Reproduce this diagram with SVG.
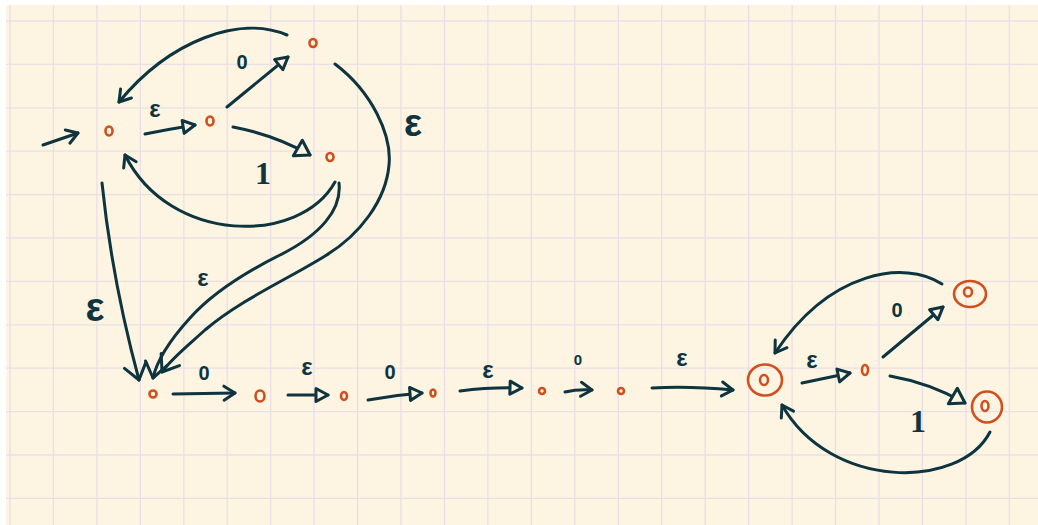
<svg xmlns="http://www.w3.org/2000/svg" width="1038" height="525" viewBox="0 0 1038 525">
<style>
.grid line{stroke:#EADFE7;stroke-width:1.3}
.edge{fill:none;stroke:#0E3440;stroke-width:3;stroke-linecap:round;stroke-linejoin:round}
.st{fill:none;stroke:#D24E1D;stroke-width:2.6}
.lbl{font-family:"Liberation Sans",Arial,sans-serif;font-weight:bold;fill:#0E3440;text-anchor:middle}
.one{font-family:"Liberation Serif","Times New Roman",serif;font-weight:bold;fill:#0E3440;text-anchor:middle}
</style>
<defs>
<marker id="v" markerUnits="userSpaceOnUse" markerWidth="30" markerHeight="30" viewBox="-15 -15 30 30" refX="0" refY="0" orient="auto">
<path d="M-11,-7 L0,0 L-11,7" fill="none" stroke="#0E3440" stroke-width="3" stroke-linecap="round" stroke-linejoin="round"/>
</marker>
<marker id="vb" markerUnits="userSpaceOnUse" markerWidth="40" markerHeight="40" viewBox="-20 -20 40 40" refX="0" refY="0" orient="auto">
<path d="M-15,-11 L0,0 L-15,11" fill="none" stroke="#0E3440" stroke-width="3" stroke-linecap="round" stroke-linejoin="round"/>
</marker>
<marker id="t" markerUnits="userSpaceOnUse" markerWidth="30" markerHeight="30" viewBox="-15 -15 30 30" refX="0" refY="0" orient="auto">
<path d="M-12,-6.5 L0,0 L-12,6.5 Z" fill="#FDF4E2" stroke="#0E3440" stroke-width="3" stroke-linejoin="round"/>
</marker>
<marker id="tb" markerUnits="userSpaceOnUse" markerWidth="36" markerHeight="36" viewBox="-18 -18 36 36" refX="0" refY="0" orient="auto">
<path d="M-14,-9 L0,0 L-14,9 Z" fill="#FDF4E2" stroke="#0E3440" stroke-width="3" stroke-linejoin="round"/>
</marker>
</defs>
<rect x="0" y="0" width="1038" height="525" fill="#FFFFFF"/>
<rect x="6" y="5" width="1032" height="520" fill="#FDF4E2"/>
<g class="grid">
<line x1="10" y1="5" x2="10" y2="525"/><line x1="53.4" y1="5" x2="53.4" y2="525"/><line x1="96.9" y1="5" x2="96.9" y2="525"/><line x1="140.3" y1="5" x2="140.3" y2="525"/><line x1="183.8" y1="5" x2="183.8" y2="525"/><line x1="227.2" y1="5" x2="227.2" y2="525"/><line x1="270.7" y1="5" x2="270.7" y2="525"/><line x1="314.1" y1="5" x2="314.1" y2="525"/><line x1="357.6" y1="5" x2="357.6" y2="525"/><line x1="401" y1="5" x2="401" y2="525"/><line x1="444.5" y1="5" x2="444.5" y2="525"/><line x1="487.9" y1="5" x2="487.9" y2="525"/><line x1="531.4" y1="5" x2="531.4" y2="525"/><line x1="574.8" y1="5" x2="574.8" y2="525"/><line x1="618.3" y1="5" x2="618.3" y2="525"/><line x1="661.7" y1="5" x2="661.7" y2="525"/><line x1="705.2" y1="5" x2="705.2" y2="525"/><line x1="748.6" y1="5" x2="748.6" y2="525"/><line x1="792.1" y1="5" x2="792.1" y2="525"/><line x1="835.5" y1="5" x2="835.5" y2="525"/><line x1="879" y1="5" x2="879" y2="525"/><line x1="922.4" y1="5" x2="922.4" y2="525"/><line x1="965.9" y1="5" x2="965.9" y2="525"/><line x1="1009.3" y1="5" x2="1009.3" y2="525"/>
<line x1="6" y1="21" x2="1038" y2="21"/><line x1="6" y1="64.4" x2="1038" y2="64.4"/><line x1="6" y1="107.8" x2="1038" y2="107.8"/><line x1="6" y1="151.2" x2="1038" y2="151.2"/><line x1="6" y1="194.6" x2="1038" y2="194.6"/><line x1="6" y1="238" x2="1038" y2="238"/><line x1="6" y1="281.4" x2="1038" y2="281.4"/><line x1="6" y1="324.8" x2="1038" y2="324.8"/><line x1="6" y1="368.2" x2="1038" y2="368.2"/><line x1="6" y1="411.6" x2="1038" y2="411.6"/><line x1="6" y1="455" x2="1038" y2="455"/><line x1="6" y1="498.4" x2="1038" y2="498.4"/>
</g>
<g id="connectors">
<path class="edge" d="M43,145 L78,133" marker-end="url(#v)"/>
<path class="edge" d="M145,134 Q170,129 195,125" marker-end="url(#t)"/>
<path class="edge" d="M227,107 L288,57" marker-end="url(#t)"/>
<path class="edge" d="M233,127 Q275,135 310,155" marker-end="url(#tb)"/>
<path class="edge" d="M287,35 C240,15 170,40 119,102" marker-end="url(#v)"/>
<path class="edge" d="M335,182 C300,245 170,245 125,155" marker-end="url(#v)"/>
<path class="edge" d="M335,64 C372,92 392,135 389,165 C386,200 360,235 325,256 C290,278 240,300 205,330 C185,348 170,360 162,372" marker-end="url(#vb)"/>
<path class="edge" d="M339,183 C342,210 320,235 280,255 C250,270 215,290 190,318 C170,340 157,360 153,378" marker-end="url(#vb)"/>
<path class="edge" d="M102,183 Q112,280 139,380" marker-end="url(#vb)"/>
<path class="edge" d="M173,394 L235,393" marker-end="url(#v)"/>
<path class="edge" d="M288,395 L328,395" marker-end="url(#t)"/>
<path class="edge" d="M368,400 Q395,395 422,393" marker-end="url(#t)"/>
<path class="edge" d="M460,391 Q490,387 522,388" marker-end="url(#t)"/>
<path class="edge" d="M565,392 Q578,389 592,390" marker-end="url(#v)"/>
<path class="edge" d="M652,388 Q690,386 733,390" marker-end="url(#v)"/>
<path class="edge" d="M802,383 L850,373" marker-end="url(#t)"/>
<path class="edge" d="M883,357 L943,307" marker-end="url(#t)"/>
<path class="edge" d="M890,376 Q930,383 965,403" marker-end="url(#tb)"/>
<path class="edge" d="M942,284 C905,260 830,270 775,353" marker-end="url(#v)"/>
<path class="edge" d="M990,432 C960,490 830,490 782,405" marker-end="url(#v)"/>
</g>
<g id="labels">
<text class="lbl" x="155" y="117" font-size="24">ε</text>
<text class="lbl" x="242" y="69" font-size="20">0</text>
<text class="one" x="263" y="184" font-size="32">1</text>
<text class="lbl" x="413" y="136" font-size="38">ε</text>
<text class="lbl" x="203" y="286" font-size="24">ε</text>
<text class="lbl" x="95" y="321" font-size="40">ε</text>
<text class="lbl" x="204" y="380" font-size="20">0</text>
<text class="lbl" x="307" y="375" font-size="24">ε</text>
<text class="lbl" x="390" y="379" font-size="20">0</text>
<text class="lbl" x="488" y="378" font-size="24">ε</text>
<text class="lbl" x="578" y="365" font-size="15">0</text>
<text class="lbl" x="682" y="366" font-size="24">ε</text>
<text class="lbl" x="812" y="368" font-size="24">ε</text>
<text class="lbl" x="897" y="317" font-size="20">0</text>
<text class="one" x="918" y="432" font-size="32">1</text>
</g>
<g id="q0"><ellipse class="st" cx="109" cy="131" rx="3.5" ry="4.5"/></g>
<g id="q1"><ellipse class="st" cx="210" cy="121" rx="3.5" ry="4.5"/></g>
<g id="q2"><ellipse class="st" cx="313" cy="43" rx="3.5" ry="4"/></g>
<g id="q3"><ellipse class="st" cx="330" cy="157" rx="3.5" ry="4"/></g>
<g id="q4"><ellipse class="st" cx="153" cy="394" rx="3.5" ry="3.5"/></g>
<g id="q5"><ellipse class="st" cx="260" cy="396" rx="4.5" ry="5.5"/></g>
<g id="q6"><ellipse class="st" cx="344" cy="396" rx="3" ry="4"/></g>
<g id="q7"><ellipse class="st" cx="433" cy="393" rx="2.5" ry="3.5"/></g>
<g id="q8"><ellipse class="st" cx="542" cy="391" rx="3" ry="3"/></g>
<g id="q9"><ellipse class="st" cx="621" cy="391" rx="3" ry="3"/></g>
<g id="q10"><ellipse class="st" cx="765" cy="380" rx="17" ry="15.5"/><ellipse class="st" cx="764" cy="380" rx="4" ry="5"/></g>
<g id="q11"><ellipse class="st" cx="865" cy="370" rx="3" ry="5"/></g>
<g id="q12"><ellipse class="st" cx="970" cy="294" rx="16" ry="13"/><ellipse class="st" cx="968" cy="292" rx="4" ry="4.5"/></g>
<g id="q13"><ellipse class="st" cx="987" cy="407" rx="15" ry="15.5"/><ellipse class="st" cx="985" cy="406" rx="3.5" ry="5"/></g>
</svg>
